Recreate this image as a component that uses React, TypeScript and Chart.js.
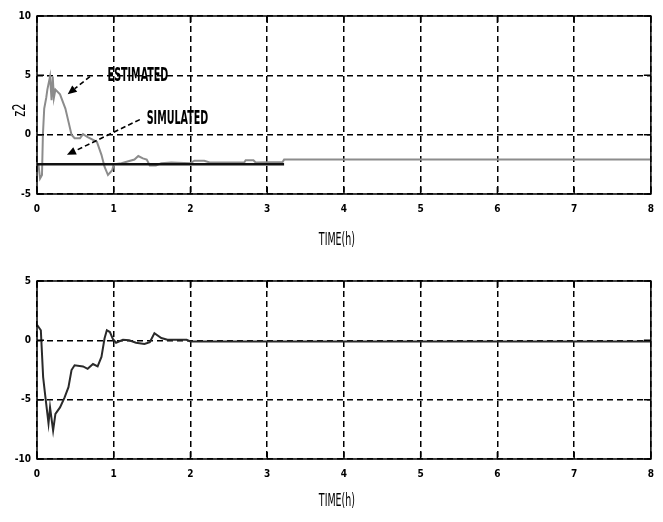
import React, { useEffect, useRef } from "react";
import { Chart, registerables } from "chart.js";

Chart.register(...registerables);

// ---- data ----
const xTickValues = [0, 1, 2, 3, 4, 5, 6, 7, 8];
const topYRange = [-5, 10];
const bottomYRange = [-10, 5];
const xAxisTitle = "TIME(h)";
const topYTitle = "z2";

const estTime = [0, 0.02, 0.04, 0.065, 0.077, 0.094, 0.12, 0.135, 0.17, 0.19, 0.205, 0.22, 0.24, 0.3, 0.37, 0.41, 0.45, 0.49, 0.56, 0.6, 0.66, 0.78, 0.84, 0.88, 0.925, 0.98, 1.0, 1.1, 1.27, 1.32, 1.38, 1.43, 1.47, 1.55, 1.62, 1.75, 2.0, 2.05, 2.18, 2.25, 2.7, 2.72, 2.82, 2.85, 3.2, 3.22, 8];
const estZ2 = [-2.5, -2.55, -3.7, -3.4, 0, 2.2, 3.1, 3.8, 4.9, 2.9, 4.9, 3.1, 3.8, 3.4, 2.2, 1.1, 0, -0.3, -0.3, 0.05, -0.2, -0.6, -1.7, -2.7, -3.4, -3.0, -2.5, -2.4, -2.1, -1.8, -2.0, -2.1, -2.6, -2.6, -2.4, -2.35, -2.4, -2.2, -2.2, -2.35, -2.35, -2.15, -2.15, -2.35, -2.3, -2.1, -2.1];

const simTime = [0, 3.22];
const simZ2 = [-2.5, -2.5];

const errTime = [0, 0.05, 0.08, 0.11, 0.15, 0.17, 0.21, 0.24, 0.3, 0.36, 0.41, 0.45, 0.49, 0.6, 0.66, 0.73, 0.79, 0.84, 0.88, 0.91, 0.95, 0.99, 1.03, 1.12, 1.2, 1.29, 1.4, 1.47, 1.53, 1.62, 1.7, 1.95, 2.0, 8];
const errVal = [1.3, 0.85, -3.1, -4.8, -7.0, -5.65, -7.6, -6.2, -5.65, -4.8, -3.95, -2.5, -2.1, -2.2, -2.4, -2.0, -2.2, -1.4, 0.15, 0.85, 0.7, 0.1, -0.2, 0.05, 0, -0.2, -0.3, -0.15, 0.6, 0.2, 0.05, 0.05, -0.1, -0.1];

const annotLabels = ["ESTIMATED", "SIMULATED"];

// annotation anchors in data units (label position, arrow start, arrow tip)
const annotations = [
  { text: annotLabels[0], lx: 0.92, ly: 4.9, fx: 0.69, fy: 4.9, tx: 0.4, ty: 3.4 },
  { text: annotLabels[1], lx: 1.43, ly: 1.3, fx: 1.34, fy: 1.27, tx: 0.39, ty: -1.7 },
];

const FONT = "'Liberation Sans Narrow', 'DejaVu Sans Condensed', 'Liberation Sans', sans-serif";

const toPoints = (xs: number[], ys: number[]) => xs.map((x, i) => ({ x, y: ys[i] }));

const framePlugin = {
  id: "frame",
  afterDraw(chart: any, _args: any, opts: any) {
    const { ctx, chartArea: a, scales } = chart;
    ctx.save();
    ctx.strokeStyle = "#000";
    ctx.setLineDash([]);
    ctx.lineWidth = 1.5;
    ctx.strokeRect(a.left, a.top, a.right - a.left, a.bottom - a.top);
    const L = 7;
    ctx.beginPath();
    scales.x.ticks.forEach((t: any) => {
      const px = scales.x.getPixelForValue(t.value);
      ctx.moveTo(px, a.bottom);
      ctx.lineTo(px, a.bottom - L);
      ctx.moveTo(px, a.top);
      ctx.lineTo(px, a.top + L);
    });
    scales.y.ticks.forEach((t: any) => {
      const py = scales.y.getPixelForValue(t.value);
      ctx.moveTo(a.left, py);
      ctx.lineTo(a.left + L, py);
      ctx.moveTo(a.right, py);
      ctx.lineTo(a.right - L, py);
    });
    ctx.stroke();

    // condensed axis titles
    ctx.fillStyle = "#000";
    ctx.textAlign = "center";
    ctx.textBaseline = "middle";
    ctx.font = `17px ${FONT}`;
    ctx.save();
    ctx.translate((a.left + a.right) / 2 - 7, chart.height - 20);
    ctx.scale(0.62, 1);
    ctx.fillText(xAxisTitle, 0, 0);
    ctx.restore();
    if (opts && opts.yTitle) {
      ctx.save();
      ctx.translate(21, (a.top + a.bottom) / 2 + 5);
      ctx.rotate(-Math.PI / 2);
      ctx.scale(0.75, 1);
      ctx.fillText(opts.yTitle, 0, 0);
      ctx.restore();
    }
    ctx.restore();
  },
};

const annotPlugin = {
  id: "annot",
  afterDatasetsDraw(chart: any) {
    const { ctx, scales } = chart;
    const sx = scales.x;
    const sy = scales.y;
    ctx.save();
    annotations.forEach((an) => {
      const lx = sx.getPixelForValue(an.lx);
      const ly = sy.getPixelForValue(an.ly);
      ctx.save();
      ctx.translate(lx, ly);
      ctx.scale(0.56, 1);
      ctx.font = `bold 19px ${FONT}`;
      ctx.fillStyle = "#000";
      ctx.textAlign = "left";
      ctx.textBaseline = "middle";
      ctx.fillText(an.text, 0, 0);
      ctx.restore();

      const fx = sx.getPixelForValue(an.fx);
      const fy = sy.getPixelForValue(an.fy);
      const tx = sx.getPixelForValue(an.tx);
      const ty = sy.getPixelForValue(an.ty);
      const ang = Math.atan2(ty - fy, tx - fx);
      const head = 9;
      const bx = tx - Math.cos(ang) * head;
      const by = ty - Math.sin(ang) * head;
      ctx.strokeStyle = "#000";
      ctx.lineWidth = 1.6;
      ctx.setLineDash([5, 3]);
      ctx.beginPath();
      ctx.moveTo(fx, fy);
      ctx.lineTo(bx, by);
      ctx.stroke();
      ctx.setLineDash([]);
      ctx.fillStyle = "#000";
      ctx.beginPath();
      ctx.moveTo(tx, ty);
      ctx.lineTo(bx + Math.sin(ang) * 4, by - Math.cos(ang) * 4);
      ctx.lineTo(bx - Math.sin(ang) * 4, by + Math.cos(ang) * 4);
      ctx.closePath();
      ctx.fill();
    });
    ctx.restore();
  },
};

function makeOptions(yRange: number[], yTitle: string, topPad: number, xHeight: number) {
  return {
    animation: false as const,
    responsive: false,
    devicePixelRatio: 1,
    layout: { padding: { top: topPad, right: 7, left: 0, bottom: 0 } },
    plugins: {
      legend: { display: false },
      tooltip: { enabled: false },
      frame: { yTitle },
    },
    elements: { point: { radius: 0 }, line: { tension: 0 } },
    scales: {
      x: {
        type: "linear" as const,
        min: 0,
        max: 8,
        afterBuildTicks: (s: any) => {
          s.ticks = xTickValues.map((v) => ({ value: v }));
        },
        afterFit: (s: any) => {
          s.height = xHeight;
        },
        ticks: {
          color: "#000",
          padding: 9,
          maxRotation: 0,
          font: { family: FONT, size: 10, weight: "bold" as const },
        },
        grid: { color: "#000", lineWidth: 1.5, drawTicks: false },
        border: { display: false, dash: [6, 4] },
      },
      y: {
        type: "linear" as const,
        min: yRange[0],
        max: yRange[1],
        ticks: {
          stepSize: 5,
          color: "#000",
          padding: 6,
          font: { family: FONT, size: 10, weight: "bold" as const },
        },
        afterFit: (s: any) => {
          s.width = 37;
        },
        grid: { color: "#000", lineWidth: 1.5, drawTicks: false },
        border: { display: false, dash: [6, 4] },
      },
    },
  };
}

export default function App() {
  const topRef = useRef<HTMLCanvasElement | null>(null);
  const botRef = useRef<HTMLCanvasElement | null>(null);

  useEffect(() => {
    if (!topRef.current || !botRef.current) return;
    const top = new Chart(topRef.current, {
      type: "line",
      data: {
        datasets: [
          {
            label: "SIMULATED",
            data: toPoints(simTime, simZ2),
            borderColor: "#111",
            borderWidth: 2.5,
            pointRadius: 0,
          },
          {
            label: "ESTIMATED",
            data: toPoints(estTime, estZ2),
            borderColor: "#8c8c8c",
            borderWidth: 2,
            pointRadius: 0,
          },
        ],
      },
      options: makeOptions(topYRange, topYTitle, 16, 67) as any,
      plugins: [framePlugin, annotPlugin],
    });
    const bot = new Chart(botRef.current, {
      type: "line",
      data: {
        datasets: [
          {
            label: "error",
            data: toPoints(errTime, errVal),
            borderColor: "#2a2a2a",
            borderWidth: 2,
            pointRadius: 0,
          },
        ],
      },
      options: makeOptions(bottomYRange, "", 20, 63) as any,
      plugins: [framePlugin],
    });
    return () => {
      top.destroy();
      bot.destroy();
    };
  }, []);

  return (
    <div
      style={{
        position: "fixed",
        left: 0,
        top: 0,
        width: 663,
        height: 522,
        background: "#fff",
      }}
    >
      <canvas
        ref={topRef}
        width={663}
        height={261}
        style={{ position: "absolute", left: 0, top: 0, display: "block" }}
      />
      <canvas
        ref={botRef}
        width={663}
        height={261}
        style={{ position: "absolute", left: 0, top: 261, display: "block" }}
      />
    </div>
  );
}
